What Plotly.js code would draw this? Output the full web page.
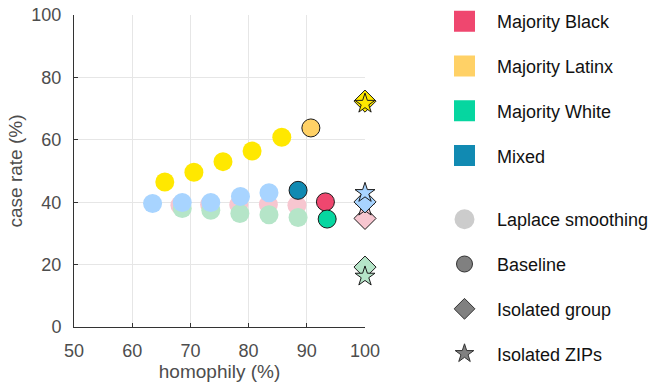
<!DOCTYPE html>
<html>
<head>
<meta charset="utf-8">
<script src="https://cdn.plot.ly/plotly-3.0.1.min.js"></script>
<style>html,body{margin:0;padding:0;background:#fff;}#chart{width:652px;height:385px;}</style>
</head>
<body>
<div id="chart"></div>
<script>
// ---- data ----
const groupNames = ['Majority Black', 'Majority Latinx', 'Majority White', 'Mixed'];
const shapeNames = ['Laplace smoothing', 'Baseline', 'Isolated group', 'Isolated ZIPs'];

const blackLaplaceX  = [68.2, 73.3, 78.3, 83.4, 88.3];
const blackLaplaceY  = [39.0, 39.3, 39.2, 39.3, 39.0];
const latinxLaplaceX = [65.6, 70.6, 75.6, 80.6, 85.7];
const latinxLaplaceY = [46.5, 49.6, 53.0, 56.4, 60.8];
const whiteLaplaceX  = [68.6, 73.5, 78.5, 83.5, 88.5];
const whiteLaplaceY  = [38.0, 37.4, 36.4, 36.0, 35.1];
const mixedLaplaceX  = [63.5, 68.6, 73.5, 78.6, 83.5];
const mixedLaplaceY  = [39.6, 39.9, 39.9, 41.8, 43.0];

const baselineX = [93.2, 90.7, 93.5, 88.5];
const baselineY = [40.1, 63.8, 34.6, 43.8];

const isolatedX      = [100, 100, 100, 100];
const isolatedGroupY = [34.8, 72.4, 19.2, 40.1];
const isolatedZipY   = [38.6, 71.6, 16.2, 43.0];

const xTicks = [50, 60, 70, 80, 90, 100];
const yTicks = [0, 20, 40, 60, 80, 100];

// ---- styles ----
const baseColors  = ['#EF476F', '#FFD166', '#06D6A0', '#118AB2'];
const lightColors = ['#F7C6D0', '#FFE800', '#B5E5C8', '#A8D4FF'];
const font = 'Liberation Sans, Arial, Helvetica, sans-serif';

const laplaceX = [blackLaplaceX, latinxLaplaceX, whiteLaplaceX, mixedLaplaceX];
const laplaceY = [blackLaplaceY, latinxLaplaceY, whiteLaplaceY, mixedLaplaceY];

const traces = [];
for (let i = 0; i < 4; i++) {
  traces.push({
    type: 'scatter', mode: 'markers', x: laplaceX[i], y: laplaceY[i],
    marker: {size: 19, color: lightColors[i], line: {width: 0}},
    showlegend: false, cliponaxis: false, hoverinfo: 'x+y'
  });
}
traces.push({
  type: 'scatter', mode: 'markers', x: baselineX, y: baselineY,
  marker: {size: 18, color: baseColors, line: {width: 1, color: '#1a1a1a'}},
  showlegend: false, cliponaxis: false, hoverinfo: 'x+y'
});
for (let i = 0; i < 4; i++) {
  traces.push({
    type: 'scatter', mode: 'markers', x: [isolatedX[i]], y: [isolatedGroupY[i]],
    marker: {symbol: 'diamond', size: 17, color: lightColors[i], line: {width: 1, color: '#1a1a1a'}},
    showlegend: false, cliponaxis: false, hoverinfo: 'x+y'
  });
  traces.push({
    type: 'scatter', mode: 'markers', x: [isolatedX[i]], y: [isolatedZipY[i]],
    marker: {symbol: 'star', size: 15, color: lightColors[i], line: {width: 1, color: '#1a1a1a'}},
    showlegend: false, cliponaxis: false, hoverinfo: 'x+y'
  });
}
// legend entries (no data)
for (let i = 0; i < 4; i++) {
  traces.push({
    type: 'scatter', mode: 'markers', x: [null], y: [null], name: groupNames[i],
    legend: 'legend', legendgroup: 'g' + i,
    marker: {symbol: 'square', size: 16, color: baseColors[i], line: {width: 5, color: baseColors[i]}}
  });
}
const shapeSymbols = ['circle', 'circle', 'diamond', 'star'];
const shapeSizes = [16, 16, 16, 14];
const shapeLines = [{width: 4, color: '#cccccc'}, {width: 1, color: '#333333'}, {width: 1, color: '#333333'}, {width: 1, color: '#333333'}];
const shapeFill = ['#cccccc', '#808080', '#808080', '#808080'];
for (let i = 0; i < 4; i++) {
  traces.push({
    type: 'scatter', mode: 'markers', x: [null], y: [null], name: shapeNames[i],
    legend: 'legend2', legendgroup: 's' + i,
    marker: {symbol: shapeSymbols[i], size: shapeSizes[i], color: shapeFill[i], line: shapeLines[i]}
  });
}

const legendCommon = {
  xref: 'container', yref: 'container', xanchor: 'left', yanchor: 'top',
  x: 432 / 652, itemwidth: 55, tracegroupgap: 18.4,
  font: {family: font, size: 18, color: '#111111'},
  bgcolor: 'rgba(0,0,0,0)', borderwidth: 0, itemclick: false, itemdoubleclick: false
};

const axisCommon = {
  showline: true, linecolor: '#333333', linewidth: 1,
  ticks: 'inside', ticklen: 4, tickcolor: '#333333', tickwidth: 1,
  showgrid: true, gridcolor: '#e6e6e6', gridwidth: 1, zeroline: false,
  tickfont: {family: font, size: 18, color: '#4d4d4d'},
  fixedrange: true
};

const layout = {
  width: 652, height: 385,
  margin: {l: 74, r: 287, t: 15, b: 58},
  paper_bgcolor: '#ffffff', plot_bgcolor: '#ffffff',
  font: {family: font},
  showlegend: true,
  xaxis: Object.assign({}, axisCommon, {
    range: [50, 100], tickvals: xTicks, ticktext: xTicks.map(String),
    ticklabelstandoff: 7,
    title: {text: 'homophily (%)', font: {family: font, size: 19, color: '#4d4d4d'}, standoff: 3}
  }),
  yaxis: Object.assign({}, axisCommon, {
    range: [0, 100], tickvals: yTicks, ticktext: yTicks.map(String),
    ticklabelstandoff: 8,
    title: {text: 'case rate (%)', font: {family: font, size: 19, color: '#4d4d4d'}, standoff: 3}
  }),
  legend: Object.assign({}, legendCommon, {y: 1 - 3 / 385}),
  legend2: Object.assign({}, legendCommon, {y: 1 - 201 / 385})
};

Plotly.newPlot('chart', traces, layout, {displayModeBar: false, staticPlot: true});
</script>
</body>
</html>
